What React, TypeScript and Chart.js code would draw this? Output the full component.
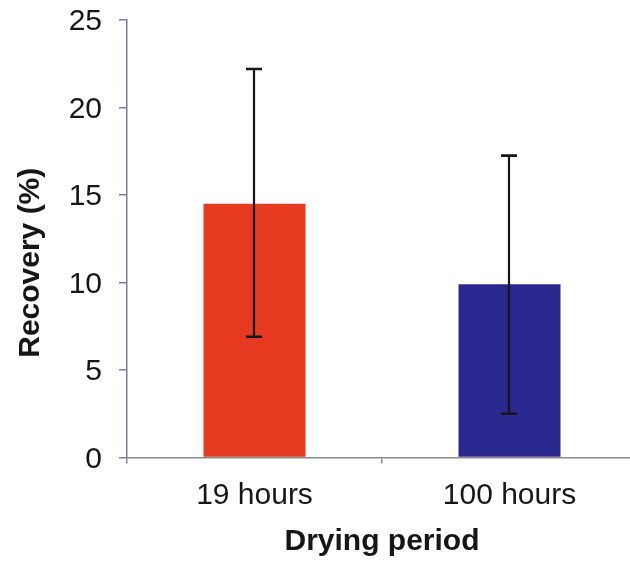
import { useEffect, useRef } from 'react';
import { Chart, registerables } from 'chart.js';

Chart.register(...registerables);

// Mean recovery per drying period, with the upper / lower error extents
const categories = ['19 hours', '100 hours'];
const recovery = [14.5, 9.9];
const errorPlus = [7.7, 7.35];
const errorMinus = [7.6, 7.4];
const barColors = ['#E53A20', '#2A288E'];
const yMin = 0;
const yMax = 25;
const yStep = 5;

const yTitle = 'Recovery (%)';
const xTitle = 'Drying period';

const TEXT = '#161616';
const FONT = "'Liberation Sans', Arial, Helvetica, sans-serif";

// Vertical error bars with flat caps, drawn on top of the bars
const errorBarPlugin = {
  id: 'errorBars',
  afterDatasetsDraw(chart: any) {
    const { ctx } = chart;
    const yScale = chart.scales.y;
    const meta = chart.getDatasetMeta(0);
    ctx.save();
    ctx.strokeStyle = '#161616';
    meta.data.forEach((bar: any, i: number) => {
      const x = Math.round(bar.x) - 1;
      const yTop = yScale.getPixelForValue(recovery[i] + errorPlus[i]);
      const yBot = yScale.getPixelForValue(recovery[i] - errorMinus[i]);
      ctx.lineWidth = 2.2;
      ctx.beginPath();
      ctx.moveTo(x, yTop);
      ctx.lineTo(x, yBot);
      ctx.stroke();
      ctx.lineWidth = 2.6;
      ctx.beginPath();
      ctx.moveTo(x - 8, yTop);
      ctx.lineTo(x + 8, yTop);
      ctx.moveTo(x - 8, yBot);
      ctx.lineTo(x + 8, yBot);
      ctx.stroke();
    });
    ctx.restore();
  },
};

// Rotated y-axis title, sitting a little below the middle of the axis
const yTitlePlugin = {
  id: 'yTitle',
  afterDraw(chart: any) {
    const { ctx, chartArea } = chart;
    const cy = (chartArea.top + chartArea.bottom) / 2 + 24;
    ctx.save();
    ctx.translate(38.5, cy);
    ctx.rotate(-Math.PI / 2);
    ctx.fillStyle = TEXT;
    ctx.font = `bold 30px ${FONT}`;
    ctx.textAlign = 'center';
    ctx.textBaseline = 'alphabetic';
    ctx.fillText(yTitle, 0, 0);
    ctx.restore();
  },
};

export default function App() {
  const canvasRef = useRef<HTMLCanvasElement | null>(null);

  useEffect(() => {
    const canvas = canvasRef.current;
    if (!canvas) return;
    const chart = new Chart(canvas, {
      type: 'bar',
      data: {
        labels: categories,
        datasets: [
          {
            data: recovery,
            backgroundColor: barColors,
            borderWidth: 0,
            barPercentage: 0.4,
            categoryPercentage: 1,
          },
        ],
      },
      options: {
        animation: false,
        responsive: false,
        devicePixelRatio: 1,
        layout: { padding: { left: 0, right: 3, top: 20, bottom: 0 } },
        plugins: {
          legend: { display: false },
          tooltip: { enabled: false },
        },
        scales: {
          x: {
            grid: {
              display: true,
              offset: true,
              drawOnChartArea: false,
              drawTicks: true,
              tickLength: 6,
              color: '#8a8a8a',
              lineWidth: 1.5,
            },
            border: { display: true, color: '#8a8a8a', width: 1.5 },
            ticks: {
              color: TEXT,
              padding: 14,
              font: { family: FONT, size: 30 },
            },
            title: {
              display: true,
              text: xTitle,
              color: TEXT,
              font: { family: FONT, size: 30, weight: 'bold' },
              padding: { top: 0, bottom: 1 },
            },
            afterFit(scale: any) {
              scale.height = 103.5;
              scale.paddingLeft = 0;
              scale.paddingRight = 0;
            },
          },
          y: {
            min: yMin,
            max: yMax,
            grid: {
              display: true,
              drawOnChartArea: false,
              drawTicks: true,
              tickLength: 8,
              color: '#7a7aa6',
              lineWidth: 1.5,
            },
            border: { display: true, color: '#7a7aa6', width: 1.5 },
            ticks: {
              stepSize: yStep,
              color: TEXT,
              padding: 17,
              labelOffset: 2,
              font: { family: FONT, size: 30 },
            },
            afterFit(scale: any) {
              scale.width = 127;
              scale.paddingTop = 0;
              scale.paddingBottom = 0;
            },
          },
        },
      },
      plugins: [errorBarPlugin, yTitlePlugin],
    });
    return () => chart.destroy();
  }, []);

  return (
    <div
      style={{
        position: 'fixed',
        left: 0,
        top: 0,
        width: 630,
        height: 561,
        overflow: 'hidden',
        background: '#ffffff',
      }}
    >
      <canvas ref={canvasRef} width={640} height={561} style={{ display: 'block' }} />
    </div>
  );
}
